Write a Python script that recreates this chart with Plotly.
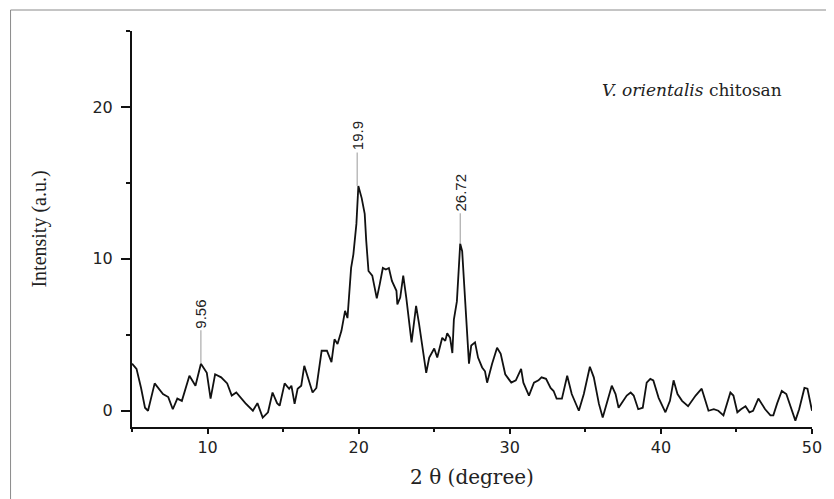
import plotly.graph_objects as go

two_theta = [5.0, 5.3, 5.6, 5.86, 6.06, 6.5, 7.05, 7.4, 7.7, 8.0, 8.3, 8.8, 9.2, 9.56, 9.95,
             10.2, 10.5, 10.9, 11.3, 11.6, 11.9, 12.5, 13.0, 13.3, 13.65, 14.0, 14.3, 14.6, 14.77,
             15.1, 15.4, 15.55, 15.76, 15.96, 16.2, 16.4, 16.95, 17.2, 17.55, 17.9, 18.2, 18.4,
             18.6, 18.86, 19.1, 19.26, 19.5, 19.65, 19.85, 19.98, 20.2, 20.4, 20.5, 20.65, 20.9,
             21.2, 21.4, 21.6, 21.8, 22.0, 22.2, 22.5, 22.56, 22.75, 22.95, 23.15, 23.5, 23.8,
             24.0, 24.47, 24.67, 25.0, 25.2, 25.53, 25.73, 25.86, 26.05, 26.2, 26.3, 26.5, 26.72,
             26.85, 27.05, 27.2, 27.3, 27.45, 27.7, 27.9, 28.17, 28.36, 28.5, 28.83, 29.16, 29.4,
             29.7, 30.1, 30.4, 30.75, 30.9, 31.27, 31.6, 31.9, 32.1, 32.4, 32.7, 32.9, 33.1,
             33.45, 33.8, 34.1, 34.57, 34.9, 35.3, 35.56, 35.9, 36.15, 36.4, 36.75, 37.0, 37.2,
             37.4, 37.74, 38.0, 38.2, 38.5, 38.8, 39.06, 39.3, 39.5, 39.85, 40.3, 40.6, 40.84,
             41.1, 41.4, 41.8, 42.3, 42.7, 42.9, 43.15, 43.5, 43.8, 44.14, 44.35, 44.6, 44.8,
             45.06, 45.3, 45.6, 45.86, 46.1, 46.45, 46.65, 46.9, 47.25, 47.44, 47.7, 48.0, 48.3,
             48.6, 48.9, 49.15, 49.5, 49.7, 49.95, 50.0]
intensity = [3.1, 2.76, 1.5, 0.2, 0.0, 1.8, 1.1, 0.9, 0.1, 0.8, 0.65, 2.3, 1.65, 3.1, 2.5,
             0.8, 2.4, 2.2, 1.8, 1.0, 1.2, 0.5, 0.0, 0.5, -0.45, -0.1, 1.2, 0.5, 0.33,
             1.8, 1.45, 1.65, 0.45, 1.45, 1.65, 2.96, 1.2, 1.5, 3.95, 3.95, 3.2, 4.7,
             4.4, 5.26, 6.58, 6.1, 9.4, 10.3, 12.3, 14.8, 14.0, 12.96, 11.2, 9.2, 8.9,
             7.4, 8.35, 9.4, 9.3, 9.4, 8.55, 7.9, 7.0, 7.45, 8.9, 7.45, 4.5, 6.9,
             5.7, 2.5, 3.5, 4.1, 3.5, 4.8, 4.6, 5.1, 4.8, 3.8, 6.0, 7.2, 11.0,
             10.5, 7.2, 4.4, 3.1, 4.3, 4.5, 3.5, 2.85, 2.6, 1.85, 3.1, 4.15, 3.75,
             2.4, 1.85, 2.0, 2.75, 1.85, 1.0, 1.85, 2.0, 2.2, 2.1, 1.5, 1.3, 0.8,
             0.8, 2.3, 1.1, 0.0, 1.1, 2.9, 2.2, 0.45, -0.45, 0.5, 1.65, 1.1, 0.2,
             0.5, 1.0, 1.2, 1.0, 0.1, 0.2, 1.85, 2.1, 2.0, 0.85, -0.1, 0.65, 2.0,
             1.1, 0.65, 0.3, 1.0, 1.45, 0.8, 0.0, 0.1, 0.0, -0.3, 0.45, 1.2, 1.0,
             -0.1, 0.1, 0.3, -0.1, 0.0, 0.8, 0.45, 0.1, -0.3, -0.3, 0.5, 1.3, 1.1,
             0.2, -0.65, 0.1, 1.5, 1.45, 0.3, 0.0]

peak_positions = [9.56, 19.9, 26.72]
peak_labels = ["9.56", "19.9", "26.72"]
peak_heights = [3.1, 14.8, 11.0]
label_bases = [5.3, 17.0, 13.0]

x_ticks = [10, 20, 30, 40, 50]
y_ticks = [0, 10, 20]

fig = go.Figure()
fig.add_trace(go.Scatter(x=two_theta, y=intensity, mode="lines",
                         line=dict(color="#111111", width=1.8), showlegend=False,
                         hoverinfo="skip"))

for px, lab, h, b in zip(peak_positions, peak_labels, peak_heights, label_bases):
    fig.add_shape(type="line", xref="x", yref="y", x0=px, x1=px, y0=h, y1=b,
                  line=dict(color="#9a9a9a", width=1))
    fig.add_annotation(x=px, y=b, xref="x", yref="y", text=lab, showarrow=False,
                       textangle=-90, xanchor="center", yanchor="bottom",
                       font=dict(family="Liberation Sans, Arial", size=15, color="#222222"))

fig.add_annotation(x=0.959, y=0.851, xref="paper", yref="paper", showarrow=False,
                   xanchor="right", yanchor="middle",
                   text="<i>V. orientalis</i> chitosan",
                   font=dict(family="DejaVu Serif", size=17, color="#222222"))

# outer frame (left and top edges visible)
fig.add_shape(type="line", xref="paper", yref="paper", x0=-0.1786, x1=-0.1786,
              y0=-0.25, y1=1.053, line=dict(color="#8a8a8a", width=1))
fig.add_shape(type="line", xref="paper", yref="paper", x0=-0.1786, x1=1.05,
              y0=1.053, y1=1.053, line=dict(color="#8a8a8a", width=1))

axis_font = dict(family="DejaVu Sans", size=16, color="#222222")
fig.update_layout(
    width=826, height=491,
    margin=dict(l=124, r=19, t=23, b=72),
    paper_bgcolor="white", plot_bgcolor="white",
    xaxis=dict(range=[5, 50], tickvals=x_ticks, showgrid=False, zeroline=False,
               showline=True, linecolor="#111111", linewidth=2,
               ticks="outside", ticklen=5, tickwidth=2, tickcolor="#111111",
               minor=dict(dtick=5, tick0=0, ticks="outside", ticklen=3, tickwidth=1.5,
                          tickcolor="#111111", showgrid=False),
               tickfont=axis_font,
               title=dict(text="2 θ (degree)", standoff=14,
                          font=dict(family="DejaVu Serif", size=20, color="#222222"))),
    yaxis=dict(range=[-1.07, 25], tickvals=y_ticks, showgrid=False, zeroline=False,
               showline=True, linecolor="#111111", linewidth=2,
               ticks="outside", ticklen=9, tickwidth=2, tickcolor="#111111",
               ticklabelstandoff=5,
               minor=dict(dtick=5, tick0=0, ticks="outside", ticklen=4, tickwidth=1.5,
                          tickcolor="#111111", showgrid=False),
               tickfont=axis_font,
               title=dict(text="Intensity (a.u.)", standoff=40,
                          font=dict(family="Liberation Serif, Times New Roman", size=20,
                                    color="#222222"))),
)

fig.write_html("out.html")
